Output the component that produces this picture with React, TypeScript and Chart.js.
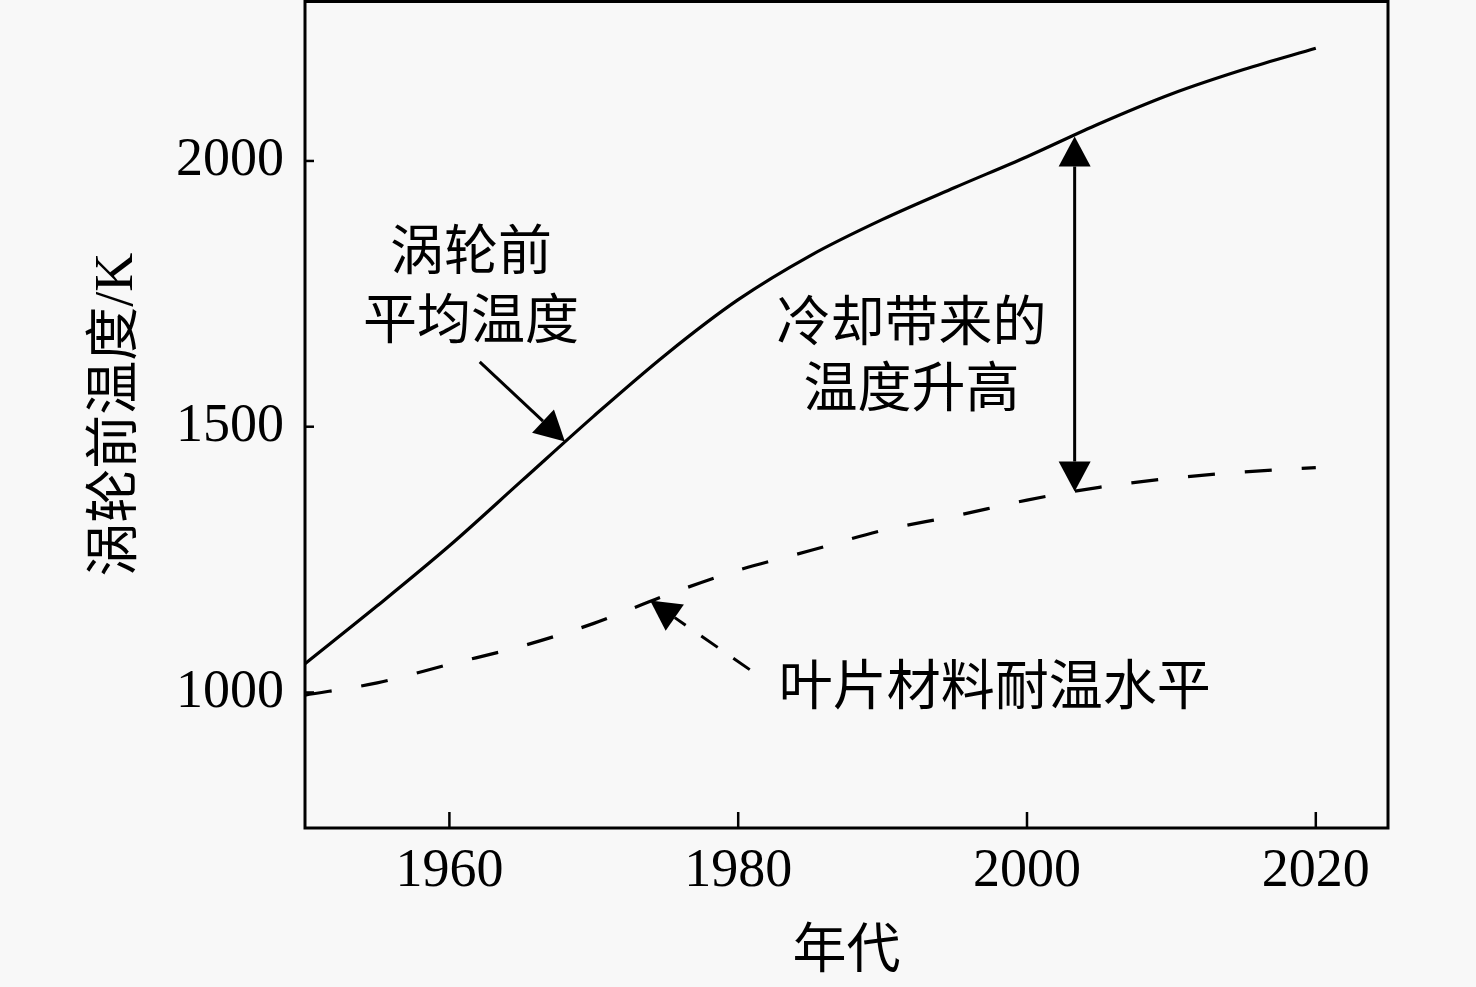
import { useEffect, useRef } from 'react';
import { Chart, registerables, Plugin } from 'chart.js';

Chart.register(...registerables);

// 年代
const years = [1950, 1955, 1960, 1965, 1970, 1975, 1980, 1985, 1990, 1995, 2000, 2005, 2010, 2015, 2020];
// 涡轮前平均温度 (K)
const turbineInletTemp = [1054, 1163, 1276, 1398, 1520, 1636, 1739, 1822, 1890, 1950, 2008, 2070, 2126, 2172, 2212];
// 叶片材料耐温水平 (K)
const bladeMaterialLimit = [995, 1018, 1053, 1087, 1130, 1183, 1230, 1267, 1305, 1332, 1362, 1386, 1403, 1415, 1423];

const xTicks = [1960, 1980, 2000, 2020];
const yTicks = [1000, 1500, 2000];

const FONT = "'Liberation Serif', 'Noto Sans CJK SC', serif";

// 标注 (数据坐标)
const labels = [
  { text: '涡轮前', x: 1961.5, y: 1830, align: 'center' },
  { text: '平均温度', x: 1961.5, y: 1702, align: 'center' },
  { text: '冷却带来的', x: 1992, y: 1698, align: 'center' },
  { text: '温度升高', x: 1992, y: 1574, align: 'center' },
  { text: '叶片材料耐温水平', x: 1982.8, y: 1013, align: 'left' },
];

const arrows = [
  { from: [1962.1, 1622], to: [1968, 1472], dash: [] as number[], double: false },
  { from: [2003.3, 1378], to: [2003.3, 2046], dash: [] as number[], double: true },
  { from: [1980.8, 1043], to: [1973.9, 1173], dash: [20, 19], double: false },
];

const drawHead = (ctx: CanvasRenderingContext2D, fx: number, fy: number, tx: number, ty: number, len: number, w: number) => {
  const ang = Math.atan2(ty - fy, tx - fx);
  const bx = tx - len * Math.cos(ang);
  const by = ty - len * Math.sin(ang);
  ctx.beginPath();
  ctx.moveTo(tx, ty);
  ctx.lineTo(bx + (w / 2) * Math.sin(ang), by - (w / 2) * Math.cos(ang));
  ctx.lineTo(bx - (w / 2) * Math.sin(ang), by + (w / 2) * Math.cos(ang));
  ctx.closePath();
  ctx.fill();
  return [bx, by];
};

const framePlugin: Plugin = {
  id: 'frameAndNotes',
  afterDraw(chart) {
    const { ctx, chartArea: a } = chart;
    const xs = chart.scales.x;
    const ys = chart.scales.y;
    ctx.save();
    ctx.strokeStyle = '#000';
    ctx.fillStyle = '#000';
    ctx.lineWidth = 3;
    ctx.strokeRect(a.left, a.top, a.right - a.left, a.bottom - a.top);

    // 内向刻度
    ctx.lineWidth = 2.5;
    xTicks.forEach(v => {
      const px = xs.getPixelForValue(v);
      ctx.beginPath();
      ctx.moveTo(px, a.bottom);
      ctx.lineTo(px, a.bottom - 16);
      ctx.stroke();
    });
    yTicks.forEach(v => {
      const py = ys.getPixelForValue(v);
      ctx.beginPath();
      ctx.moveTo(a.left, py);
      ctx.lineTo(a.left + 9, py);
      ctx.stroke();
    });

    // 箭头
    arrows.forEach(ar => {
      const fx = xs.getPixelForValue(ar.from[0]);
      const fy = ys.getPixelForValue(ar.from[1]);
      const tx = xs.getPixelForValue(ar.to[0]);
      const ty = ys.getPixelForValue(ar.to[1]);
      ctx.lineWidth = 3;
      const [bx, by] = drawHead(ctx, fx, fy, tx, ty, 30, 32);
      let sx = fx, sy = fy;
      if (ar.double) {
        [sx, sy] = drawHead(ctx, tx, ty, fx, fy, 30, 32);
      }
      ctx.setLineDash(ar.dash);
      ctx.beginPath();
      ctx.moveTo(sx, sy);
      ctx.lineTo(bx, by);
      ctx.stroke();
      ctx.setLineDash([]);
    });

    // 文字 (Noto CJK 字形略偏上, 下移 5px)
    ctx.font = `54px ${FONT}`;
    ctx.textBaseline = 'middle';
    labels.forEach(l => {
      ctx.textAlign = l.align as CanvasTextAlign;
      ctx.fillText(l.text, xs.getPixelForValue(l.x), ys.getPixelForValue(l.y) + 5);
    });
    ctx.restore();
  },
};

const App = () => {
  const canvasRef = useRef<HTMLCanvasElement>(null);

  useEffect(() => {
    if (!canvasRef.current) return;
    const chart = new Chart(canvasRef.current, {
      type: 'line',
      data: {
        datasets: [
          {
            label: '涡轮前平均温度',
            data: years.map((yr, i) => ({ x: yr, y: turbineInletTemp[i] })),
            borderColor: '#000',
            borderWidth: 3.2,
            pointRadius: 0,
            cubicInterpolationMode: 'monotone',
          },
          {
            label: '叶片材料耐温水平',
            data: years.map((yr, i) => ({ x: yr, y: bladeMaterialLimit[i] })),
            borderColor: '#000',
            borderWidth: 3.2,
            borderDash: [27, 30],
            pointRadius: 0,
            cubicInterpolationMode: 'monotone',
          },
        ],
      },
      options: {
        animation: false,
        responsive: true,
        maintainAspectRatio: false,
        layout: { padding: { left: 0, right: 88, top: 1.5, bottom: 0 } },
        plugins: { legend: { display: false }, tooltip: { enabled: false } },
        scales: {
          x: {
            type: 'linear',
            min: 1950,
            max: 2025,
            afterBuildTicks: s => { s.ticks = xTicks.map(v => ({ value: v })); },
            afterFit: (s: any) => { s.height = 159; s.paddingLeft = 0; s.paddingRight = 0; },
            grid: { display: false, drawTicks: false },
            border: { display: false },
            ticks: { color: '#000', padding: 11, font: { family: FONT, size: 54 }, callback: v => String(v) },
            title: { display: true, text: '年代', color: '#000', font: { family: FONT, size: 54 }, padding: { top: 0, bottom: 1 } },
          },
          y: {
            type: 'linear',
            min: 745,
            max: 2300,
            afterBuildTicks: s => { s.ticks = yTicks.map(v => ({ value: v })); },
            afterFit: (s: any) => { s.width = 305; s.paddingTop = 0; s.paddingBottom = 0; },
            grid: { display: false, drawTicks: false },
            border: { display: false },
            ticks: { color: '#000', padding: 21, font: { family: FONT, size: 54 }, callback: v => String(v) },
            title: { display: true, text: '涡轮前温度/K', color: '#000', font: { family: FONT, size: 54 }, padding: { top: 85, bottom: 0 } },
          },
        },
      },
      plugins: [framePlugin],
    });
    return () => chart.destroy();
  }, []);

  return (
    <div style={{ position: 'fixed', left: 0, top: 0, width: 1476, height: 987, background: '#f8f8f8' }}>
      <canvas ref={canvasRef} />
    </div>
  );
};

export default App;
